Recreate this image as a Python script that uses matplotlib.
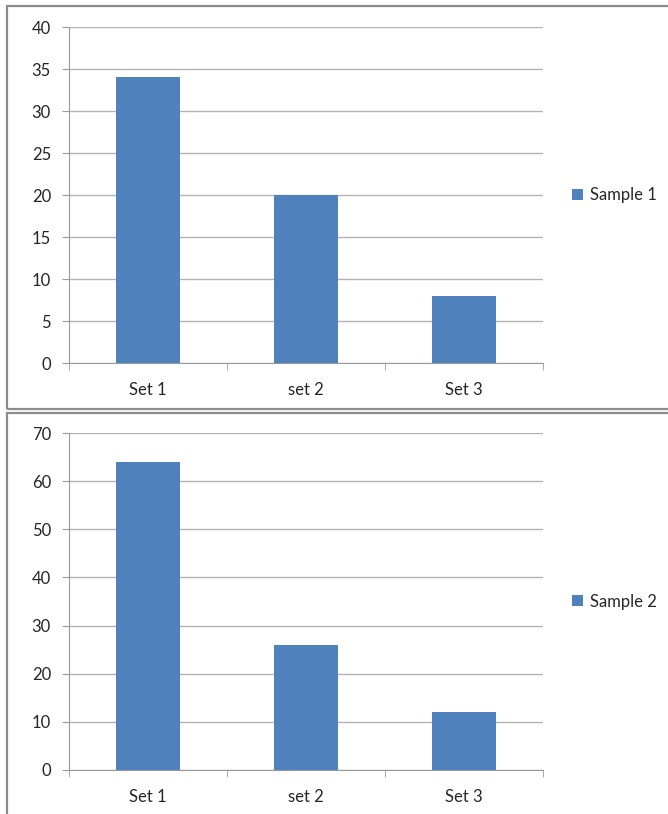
import numpy as np
import matplotlib.pyplot as plt
from matplotlib.patches import Rectangle

plt.rcParams['font.family'] = ['Lato', 'DejaVu Sans']

# Kategorier og verdier
kategorier = ["Set 1", "set 2", "Set 3"]
sample1 = [34, 20, 8]
sample2 = [64, 26, 12]
serier = ["Sample 1", "Sample 2"]

W, H = 668, 814
fig = plt.figure(figsize=(W / 100, H / 100), dpi=100)

blaa = "#4F81BD"
grid_farge = "#B3B3B3"
akse_farge = "#9A9A9A"
tekst = "#262626"

# Ramme rundt hvert diagram (piksler: x0, y0 fra toppen, bredde, hoyde)
rammer = [(7, 6, 670, 403), (7, 413, 670, 410)]
for x0, y0, b, h in rammer:
    fig.patches.append(Rectangle((x0 / W, 1 - (y0 + h) / H), b / W, h / H,
                                 transform=fig.transFigure, fill=False,
                                 edgecolor="#8C8C8C", linewidth=1.6))


def tegn(topp, bunn, verdier, ymax, steg, navn):
    ax = fig.add_axes([69 / W, 1 - bunn / H, 474 / W, (bunn - topp) / H])
    x = np.arange(len(kategorier))
    ax.bar(x, verdier, width=0.4, color=blaa, zorder=3, label=navn)
    ax.set_xlim(-0.5, len(kategorier) - 0.5)
    ax.set_ylim(0, ymax)
    ax.set_yticks(np.arange(0, ymax + 1, steg))
    ax.yaxis.grid(True, color=grid_farge, linewidth=1.0, zorder=0)
    ax.set_xticks(x)
    ax.set_xticklabels(kategorier)
    ax.set_xticks(np.arange(-0.5, len(kategorier)), minor=True)
    ax.tick_params(axis="x", which="major", length=0, pad=14,
                   labelsize=12, labelcolor=tekst)
    ax.tick_params(axis="x", which="minor", length=5, color=akse_farge)
    ax.tick_params(axis="y", length=5, color=akse_farge, pad=8,
                   labelsize=12, labelcolor=tekst)
    for s in ["top", "right"]:
        ax.spines[s].set_visible(False)
    for s in ["left", "bottom"]:
        ax.spines[s].set_color(akse_farge)
    ax.legend(loc="center left", bbox_to_anchor=(1.03, 0.5), frameon=False,
              fontsize=12, handlelength=0.65, handleheight=0.65,
              handletextpad=0.4, labelcolor=tekst)
    return ax


tegn(27, 363, sample1, 40, 5, serier[0])
tegn(433, 770, sample2, 70, 10, serier[1])

fig.savefig("out.png", dpi=100, facecolor="white")
